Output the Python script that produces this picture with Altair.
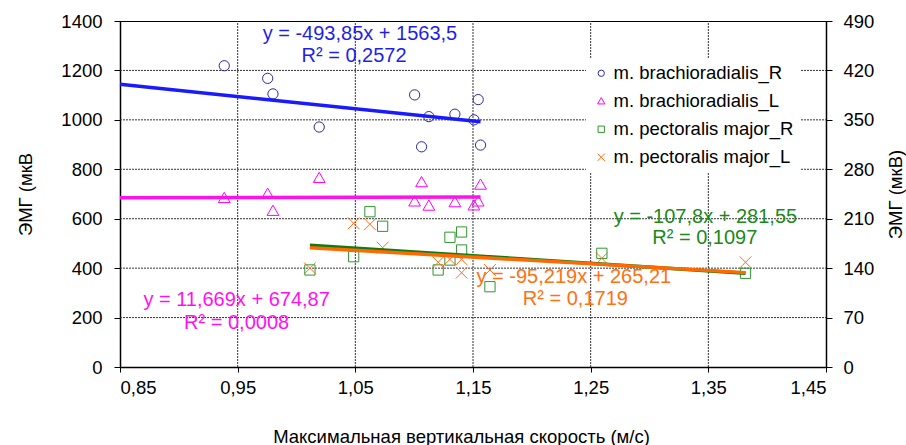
import altair as alt
import pandas as pd

# Maximal vertical velocity (m/s) and EMG amplitude (µV)
vel_brach = [0.9386, 0.9755, 0.980, 1.0193, 1.1004, 1.1063, 1.1125, 1.1346, 1.1508, 1.1544, 1.1564]
brach_R = [1219, 1168, 1105, 971, 1101, 891, 1013, 1023, 1000, 1082, 898]
brach_L = [683, 700, 631, 764, 669, 747, 652, 666, 653, 669, 737]

vel_pect_R = [1.0114, 1.0486, 1.0624, 1.0732, 1.1204, 1.1304, 1.1304, 1.1403, 1.1403, 1.1644, 1.2595, 1.3816]
pect_R = [137.4, 156.2, 219.9, 199.3, 137.4, 183.7, 151.5, 191.2, 165.7, 113.7, 161.0, 132.7]
vel_pect_L = [1.0114, 1.0486, 1.0624, 1.0732, 1.1204, 1.1304, 1.1403, 1.1403, 1.1644, 1.2595, 1.3816]
pect_L = [139.8, 203.5, 202.1, 169.0, 148.3, 152.5, 152.5, 133.5, 137.4, 153.9, 148.3]

series = ["m. brachioradialis_R", "m. brachioradialis_L",
          "m. pectoralis major_R", "m. pectoralis major_L"]
marker_colors = ["#2a2a96", "#ff00ff", "#2f962f", "#ff6a1a"]
marker_shapes = ["circle", "M0,-1.15L1.15,0.85L-1.15,0.85Z", "square",
                 "M-1.15,-1.15L1.15,1.15M-1.15,1.15L1.15,-1.15"]

# Linear trend lines: slope, intercept, x-range, colour
trend_slope = [-493.85, 11.669, -107.8, -95.219]
trend_icpt = [1563.5, 674.87, 281.55, 265.21]
trend_x0 = [0.85, 0.85, 1.0114, 1.0114]
trend_x1 = [1.1564, 1.1564, 1.3816, 1.3816]
trend_colors = ["#1a1aff", "#ff11ee", "#137a13", "#ff6a00"]
eq_colors = ["#1f1fe6", "#ff11ee", "#1a8a1a", "#ff7010"]
eq_text = ["y = -493,85x + 1563,5", "y = 11,669x + 674,87",
           "y = -107,8x + 281,55", "y = -95,219x + 265,21"]
r2_text = ["R² = 0,2572", "R² = 0,0008", "R² = 0,1097", "R² = 0,1719"]
# label anchors (x in m/s, y in the units of the series' own axis)
eq_x = [1.0539, 0.9491, 1.3475, 1.2357]
eq_y = [1348, 271, 212.9, 127.9]
r2_x = [1.0489, 0.9491, 1.347, 1.237]
r2_y = [1258, 177, 182.3, 95.9]

x_ticks = [0.85, 0.95, 1.05, 1.15, 1.25, 1.35, 1.45]
y_left_ticks = [0, 200, 400, 600, 800, 1000, 1200, 1400]
y_right_ticks = [0, 70, 140, 210, 280, 350, 420, 490]
FONT = "Liberation Sans"

pts_left = pd.DataFrame(
    {"v": vel_brach * 2, "emg": brach_R + brach_L,
     "series": [series[0]] * len(vel_brach) + [series[1]] * len(vel_brach)})
pts_right = pd.DataFrame(
    {"v": vel_pect_R + vel_pect_L, "emg": pect_R + pect_L,
     "series": [series[2]] * len(vel_pect_R) + [series[3]] * len(vel_pect_L)})


def trend_rows(idx):
    rows = []
    for i in idx:
        for xv in (trend_x0[i], trend_x1[i]):
            rows.append({"v": xv, "emg": trend_slope[i] * xv + trend_icpt[i],
                         "name": series[i], "clr": trend_colors[i]})
    return pd.DataFrame(rows)


def label_rows(idx):
    rows = []
    for i in idx:
        rows.append({"v": eq_x[i], "emg": eq_y[i], "txt": eq_text[i], "clr": eq_colors[i]})
        rows.append({"v": r2_x[i], "emg": r2_y[i], "txt": r2_text[i], "clr": eq_colors[i]})
    return pd.DataFrame(rows)


def grid_rows():
    # each grid line as a two-point segment spanning the plot
    rows = []
    for t in x_ticks[1:-1]:
        rows.append({"v": t, "emg": y_left_ticks[0], "gid": f"v{t}"})
        rows.append({"v": t, "emg": y_left_ticks[-1], "gid": f"v{t}"})
    for t in y_left_ticks[1:-1]:
        rows.append({"v": x_ticks[0], "emg": t, "gid": f"h{t}"})
        rows.append({"v": x_ticks[-1], "emg": t, "gid": f"h{t}"})
    return pd.DataFrame(rows)


x_enc = alt.X(
    "v:Q",
    scale=alt.Scale(domain=[0.85, 1.45], nice=False, zero=False),
    axis=alt.Axis(
        values=x_ticks,
        labelExpr="replace(format(datum.value, '.2f'), '.', ',')",
        title="Максимальная вертикальная скорость (м/с)",
        titleX=341, titleY=69, titleBaseline="middle",
        grid=False, tickSize=5, labelPadding=6,
    ),
)

y_left = alt.Y(
    "emg:Q",
    scale=alt.Scale(domain=[0, 1400], nice=False),
    axis=alt.Axis(values=y_left_ticks, format="d", title="ЭМГ (мкВ",
                  orient="left", grid=False, tickSize=6, labelPadding=12,
                  titleX=-95, titleY=173, titleAngle=270,
                  titleAlign="center", titleBaseline="middle"),
)
y_right = alt.Y(
    "emg:Q",
    scale=alt.Scale(domain=[0, 490], nice=False),
    axis=alt.Axis(values=y_right_ticks, format="d", title="ЭМГ (мкВ)",
                  orient="right", grid=False, tickSize=6, labelPadding=11,
                  titleX=69, titleY=173, titleAngle=270,
                  titleAlign="center", titleBaseline="middle"),
)

legend = alt.Legend(orient="none", legendX=466, legendY=37, title=None,
                    labelFont=FONT, labelFontSize=18.5, labelColor="black",
                    labelLimit=400,
                    symbolSize=40, symbolStrokeWidth=1, fillColor="white",
                    padding=6, rowPadding=9, labelOffset=3)
color_enc = alt.Color("series:N", scale=alt.Scale(domain=series, range=marker_colors),
                      legend=legend)
shape_enc = alt.Shape("series:N", scale=alt.Scale(domain=series, range=marker_shapes),
                      legend=legend)

# dotted grid drawn as line segments
grid = alt.Chart(grid_rows()).mark_line(
    strokeWidth=1, strokeDash=[2, 1], color="#333333", opacity=1
).encode(x=x_enc, y=y_left, detail="gid:N")


def layer_for(points, idx, y_enc, extra=()):
    pts = alt.Chart(points).mark_point(filled=False, size=105, strokeWidth=1, opacity=1).encode(
        x=x_enc, y=y_enc, color=color_enc, shape=shape_enc)
    lines = alt.Chart(trend_rows(idx)).mark_line(strokeWidth=3.5).encode(
        x=x_enc, y=y_enc, detail="name:N", color=alt.Color("clr:N", scale=None))
    texts = alt.Chart(label_rows(idx)).mark_text(font=FONT, fontSize=20).encode(
        x=x_enc, y=y_enc, text="txt:N", color=alt.Color("clr:N", scale=None))
    return alt.layer(*extra, pts, lines, texts)


left = layer_for(pts_left, [0, 1], y_left, extra=(grid,))
right = layer_for(pts_right, [2, 3], y_right)

chart = alt.layer(left, right).resolve_scale(y="independent").properties(
    width=706, height=346,
    padding={"left": 120, "top": 21, "right": 80, "bottom": 78},
    autosize="none",
    background="white",
).configure_view(stroke="#000", strokeWidth=1).configure_axis(
    labelFont=FONT, labelFontSize=18.5, labelColor="#000",
    titleFont=FONT, titleFontSize=18.5, titleFontWeight="normal", titleColor="#000",
    domainColor="#000", domainWidth=1.5, tickColor="#000", tickWidth=1,
)

chart.save("out.html", embed_options={"renderer": "svg", "actions": False})
